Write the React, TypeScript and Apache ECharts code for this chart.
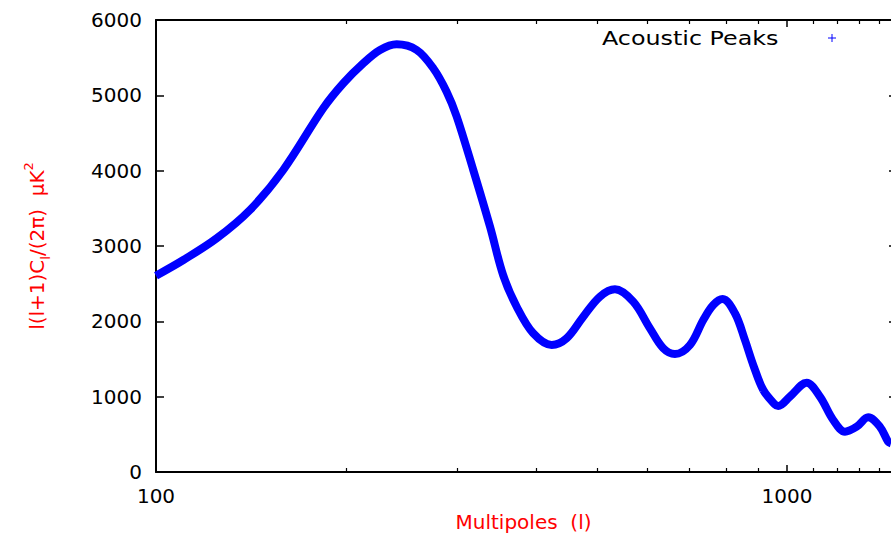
import React, { useEffect, useRef } from "react";
import * as echarts from "echarts";

const multipoles = [100, 110.5, 124.8, 140.9, 159.1, 184.1, 198.1, 213.1, 226.5, 240.7, 258.9, 275.1, 288.8, 299.6, 318.3, 338.4, 355.1, 373, 396.2, 423.8, 447.6, 475.5, 505.3, 533.9, 570.7, 606.6, 636.8, 664.5, 702, 736.9, 764.2, 790.9, 827.2, 857.9, 884.4, 917.3, 957.2, 968.7, 1011, 1074.6, 1128, 1184, 1236, 1290, 1345, 1404, 1447, 1462];
const power = [2606, 2814, 3102, 3478, 4009, 4828, 5160, 5425, 5602, 5677, 5602, 5359, 5048, 4720, 4009, 3256, 2610, 2194, 1841, 1686, 1775, 2061, 2327, 2425, 2261, 1907, 1642, 1566, 1686, 2018, 2217, 2296, 2107, 1752, 1420, 1088, 895, 876, 1000, 1185, 1000, 690, 535, 601, 726, 601, 402, 381];
const majorXTicks = [100, 1000];
const minorXTicks = [200, 300, 400, 500, 600, 700, 800, 900, 1100, 1200, 1300, 1400];
const legendLabel = "Acoustic Peaks";
const xName = "Multipoles  (l)";
const yName = "l(l+1)C{sub|l}/(2π)  μK{sup|2}";
const X_MIN = 100;
const X_MAX = 1462;

const FONT = "DejaVu Sans";

export default function App() {
  const ref = useRef<HTMLDivElement>(null);
  useEffect(() => {
    document.body.style.margin = "0";
    const chart = echarts.init(ref.current!, null, { renderer: "svg" });
    const data = multipoles.map((l, i) => [l, power[i]]);
    const axisLine = { show: true, lineStyle: { color: "#000", width: 2 } };
    const xCommon = {
      type: "log" as const,
      logBase: 10,
      min: X_MIN,
      max: X_MAX,
      splitLine: { show: false },
      minorTick: { show: false },
      axisLine,
    };
    chart.setOption({
      animation: false,
      backgroundColor: "#fff",
      grid: { left: 156, right: 0, top: 20, bottom: 66, containLabel: false },
      xAxis: [
        {
          ...xCommon,
          position: "bottom",
          name: xName,
          nameLocation: "middle",
          nameGap: 40,
          nameTextStyle: { color: "#ff0000", fontSize: 20, fontFamily: FONT },
          axisTick: { show: true, inside: true, length: 7, customValues: majorXTicks, lineStyle: { color: "#000", width: 1.5 } },
          axisLabel: {
            show: true,
            customValues: majorXTicks,
            color: "#000",
            fontSize: 20,
            fontFamily: FONT,
            margin: 14,
            formatter: (v: number) => String(Math.round(v)),
          },
        },
        {
          ...xCommon,
          position: "bottom",
          axisLine: { show: false },
          axisTick: { show: true, inside: true, length: 4, customValues: minorXTicks, lineStyle: { color: "#000", width: 1.2 } },
          axisLabel: { show: false },
        },
        {
          ...xCommon,
          position: "top",
          axisTick: { show: true, inside: true, length: 7, customValues: majorXTicks, lineStyle: { color: "#000", width: 1.5 } },
          axisLabel: { show: false },
        },
        {
          ...xCommon,
          position: "top",
          axisLine: { show: false },
          axisTick: { show: true, inside: true, length: 4, customValues: minorXTicks, lineStyle: { color: "#000", width: 1.2 } },
          axisLabel: { show: false },
        },
      ],
      yAxis: [
        {
          type: "value",
          min: 0,
          max: 6000,
          interval: 1000,
          position: "left",
          splitLine: { show: false },
          axisLine,
          axisTick: { show: true, inside: true, length: 8, lineStyle: { color: "#000", width: 1.5 } },
          axisLabel: { color: "#000", fontSize: 20, fontFamily: FONT, margin: 14, formatter: (v: number) => String(v) },
          name: yName,
          nameLocation: "middle",
          nameRotate: 90,
          nameGap: 104,
          nameTextStyle: {
            color: "#ff0000",
            fontSize: 20,
            fontFamily: FONT,
            lineHeight: 30,
            rich: {
              sub: { fontSize: 13, fontFamily: FONT, color: "#ff0000", verticalAlign: "bottom", lineHeight: 30 },
              sup: { fontSize: 13, fontFamily: FONT, color: "#ff0000", verticalAlign: "top", lineHeight: 30 },
            },
          },
        },
        {
          type: "value",
          min: 0,
          max: 6000,
          interval: 1000,
          position: "right",
          splitLine: { show: false },
          axisLine: { show: false },
          axisTick: { show: true, inside: true, length: 2, lineStyle: { color: "#000", width: 1.5 } },
          axisLabel: { show: false },
        },
      ],
      series: [
        {
          type: "line",
          name: legendLabel,
          xAxisIndex: 0,
          yAxisIndex: 0,
          data,
          smooth: 0.35,
          showSymbol: false,
          symbol: "none",
          lineStyle: { color: "#0000ff", width: 8 },
          clip: true,
        },
      ],
      graphic: [
        {
          type: "text",
          x: 602,
          y: 38,
          scaleX: 1.19,
          style: { text: legendLabel, fill: "#000", fontSize: 20, fontFamily: FONT, align: "left", verticalAlign: "middle" },
        },
        { type: "line", shape: { x1: 828, y1: 38, x2: 836, y2: 38 }, style: { stroke: "#0000ff", lineWidth: 1 } },
        { type: "line", shape: { x1: 832, y1: 34, x2: 832, y2: 42 }, style: { stroke: "#0000ff", lineWidth: 1 } },
      ],
    });
    return () => chart.dispose();
  }, []);
  return <div ref={ref} style={{ width: 891, height: 538 }} />;
}
